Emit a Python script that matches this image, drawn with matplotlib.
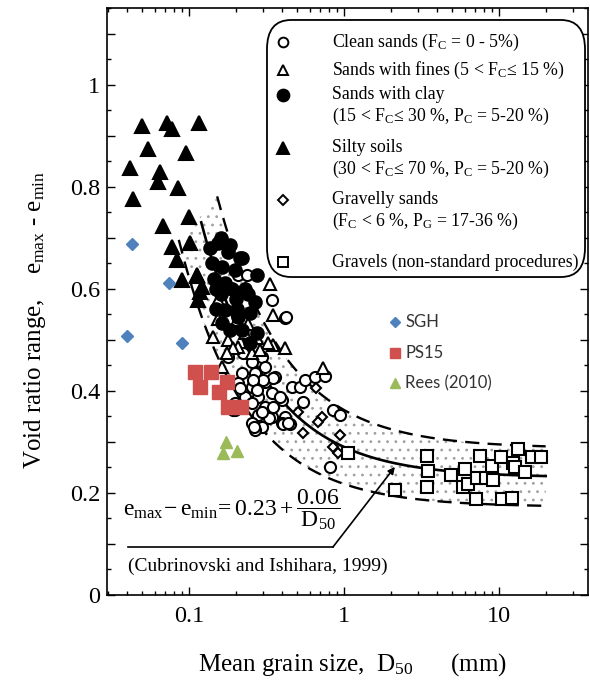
import numpy as np
import matplotlib
matplotlib.use("Agg")
import matplotlib.pyplot as plt
from matplotlib.patches import FancyBboxPatch
from matplotlib.ticker import MultipleLocator, FixedLocator, FuncFormatter, LogLocator, NullFormatter

plt.rcParams['font.family'] = ['Liberation Serif', 'DejaVu Serif']
plt.rcParams['mathtext.fontset'] = 'custom'
plt.rcParams['mathtext.rm'] = 'Liberation Serif'
plt.rcParams['mathtext.it'] = 'Liberation Serif'
plt.rcParams['mathtext.bf'] = 'Liberation Serif:bold'
plt.rcParams['mathtext.default'] = 'rm'
plt.rcParams['hatch.linewidth'] = 0.8

# ---- data: mean grain size D50 (mm) and void ratio range (emax - emin) ----
clean_D = [0.207, 0.237, 0.343, 0.416, 0.179, 0.223, 0.255, 0.296, 0.220, 0.267,
           0.309, 0.207, 0.255, 0.309, 0.359, 0.230, 0.279, 0.343, 0.255, 0.198,
           0.309, 0.398, 0.462, 0.279, 0.343, 0.416, 0.296, 0.255, 0.398, 0.267,
           0.198, 0.520, 0.422, 0.56, 0.65, 0.75, 0.544, 0.85, 0.94, 0.81,
           0.262, 0.328, 0.404, 0.449, 0.348, 0.386, 0.348, 0.30, 0.26, 0.296,
           0.275, 0.436, 0.192, 0.213]
clean_e = [0.627, 0.627, 0.578, 0.543, 0.467, 0.475, 0.457, 0.467, 0.435, 0.435,
           0.447, 0.416, 0.408, 0.418, 0.427, 0.388, 0.388, 0.396, 0.376, 0.376,
           0.369, 0.382, 0.408, 0.353, 0.349, 0.349, 0.329, 0.337, 0.337, 0.324,
           0.363, 0.408, 0.545, 0.422, 0.427, 0.429, 0.378, 0.363, 0.353, 0.251,
           0.329, 0.347, 0.335, 0.335, 0.369, 0.388, 0.425, 0.422, 0.422, 0.359,
           0.402, 0.337, 0.363, 0.405]

fines_D = [0.333, 0.348, 0.154, 0.143, 0.179, 0.207, 0.204, 0.275, 0.255, 0.348,
           0.416, 0.323, 0.163, 0.230, 0.192, 0.176, 0.733, 0.287, 0.155, 0.24]
fines_e = [0.610, 0.549, 0.578, 0.506, 0.500, 0.486, 0.539, 0.504, 0.475, 0.490,
           0.484, 0.494, 0.447, 0.514, 0.484, 0.475, 0.445, 0.480, 0.540, 0.53]

clay_D = [0.154, 0.179, 0.213, 0.163, 0.198, 0.275, 0.171, 0.267, 0.171, 0.207,
          0.248, 0.163, 0.275, 0.248, 0.137, 0.140, 0.145, 0.150, 0.160, 0.190,
          0.200, 0.230, 0.220, 0.185, 0.240, 0.220, 0.184, 0.150, 0.160, 0.205]
clay_e = [0.690, 0.671, 0.661, 0.643, 0.637, 0.627, 0.612, 0.575, 0.559, 0.545,
          0.553, 0.533, 0.514, 0.494, 0.680, 0.650, 0.620, 0.600, 0.590, 0.600,
          0.580, 0.600, 0.520, 0.520, 0.590, 0.660, 0.686, 0.560, 0.700, 0.560]

silty_D = [0.0497, 0.0722, 0.0777, 0.116, 0.0543, 0.0956, 0.0416, 0.065, 0.0631, 0.085,
           0.0435, 0.100, 0.068, 0.1015, 0.0777, 0.0837, 0.0901, 0.1126, 0.121, 0.113,
           0.118, 0.115]
silty_e = [0.918, 0.924, 0.912, 0.924, 0.873, 0.865, 0.837, 0.829, 0.810, 0.798,
           0.775, 0.741, 0.722, 0.690, 0.682, 0.657, 0.618, 0.627, 0.604, 0.624,
           0.594, 0.578]

gravelly_D = [0.66, 0.505, 0.72, 0.68, 0.544, 0.94, 0.85, 0.91]
gravelly_e = [0.406, 0.359, 0.349, 0.339, 0.318, 0.314, 0.290, 0.278]

gravel_D = [2.13, 3.43, 3.48, 3.43, 4.9, 6.04, 5.86, 6.31, 7.1, 7.54,
            7.21, 8.24, 9.01, 9.16, 10.3, 12.3, 13.3, 12.7, 14.7, 16.3,
            18.7, 10.5, 12.1, 1.06]
gravel_e = [0.206, 0.273, 0.243, 0.212, 0.235, 0.247, 0.212, 0.218, 0.188, 0.273,
            0.229, 0.229, 0.253, 0.225, 0.271, 0.259, 0.286, 0.251, 0.241, 0.271,
            0.271, 0.188, 0.190, 0.278]

sgh_D = [0.0428, 0.0743, 0.0398, 0.0901]
sgh_e = [0.688, 0.612, 0.508, 0.494]

ps15_D = [0.109, 0.139, 0.118, 0.176, 0.156, 0.178, 0.216]
ps15_e = [0.437, 0.437, 0.408, 0.418, 0.398, 0.369, 0.369]

rees_D = [0.173, 0.166, 0.204]
rees_e = [0.300, 0.278, 0.282]

# empirical relation emax - emin = a + b / D50 with a +/-25 % band
fit_a, fit_b = 0.23, 0.06
band_lo, band_hi = 0.75, 1.25

x_ticks = [0.1, 1, 10]
x_ticklabels = ['0.1', '1', '10']

# ---- figure ----
fig = plt.figure(figsize=(5.9, 6.88), dpi=100)
ax = fig.add_axes([107 / 590, 1 - 595 / 688, 481 / 590, 587 / 688])
ax.set_xscale('log')
ax.set_xlim(0.0296, 37.5)
ax.set_ylim(0, 1.15)


def relation(d):
    return fit_a + fit_b / d


# stippled scatter band; its upper-left corner is cut by a slanted edge
d_band = np.logspace(np.log10(0.088), np.log10(20), 400)
cut_edge = 0.784 - 0.396 * (np.log10(0.152) - np.log10(d_band))
ax.fill_between(d_band, band_lo * relation(d_band),
                np.minimum(band_hi * relation(d_band), cut_edge),
                facecolor='none', edgecolor='#a0a0a0', hatch='..', lw=0, zorder=1)

d_up = np.logspace(np.log10(0.152), np.log10(20), 300)
ax.plot(d_up, band_hi * relation(d_up), color='black', lw=1.7,
        dashes=(6, 3.5), zorder=2)
d_lo = np.logspace(np.log10(0.086), np.log10(20), 300)
ax.plot(d_lo, band_lo * relation(d_lo), color='black', lw=1.7,
        dashes=(6, 3.5), zorder=2)
d_mid = np.logspace(np.log10(0.12), np.log10(20), 300)
ax.plot(d_mid, relation(d_mid), color='black', lw=1.9, zorder=2)

mk = dict(ls='none', mec='black', mew=1.5, zorder=3)
ax.plot(clean_D, clean_e, 'o', mfc='white', ms=8, **mk)
ax.plot(fines_D, fines_e, '^', mfc='white', ms=8, **mk)
ax.plot(gravelly_D, gravelly_e, 'D', mfc='white', ms=5.5, **mk)
ax.plot(gravel_D, gravel_e, 's', mfc='white', ms=8, **mk)
ax.plot(clay_D, clay_e, 'o', mfc='black', ms=9, **mk)
ax.plot(silty_D, silty_e, '^', mfc='black', ms=9.5, **mk)

ax.plot(sgh_D, sgh_e, 'D', ls='none', color='#4f81bd', ms=6.5, zorder=4)
ax.plot(ps15_D, ps15_e, 's', ls='none', color='#d0504d', ms=10, zorder=4)
ax.plot(rees_D, rees_e, '^', ls='none', color='#9bbb59', ms=9, zorder=4)

# equation and reference with leader arrow
ax.text(0.0375, 0.168, r'$e_{max}\!-e_{min}\!=0.23+\dfrac{0.06}{D_{50}}$',
        fontsize=17, va='center', ha='left', zorder=5)
ax.plot([0.0404, 0.849], [0.094, 0.094], color='black', lw=1.2, zorder=5)
ax.annotate('', xy=(2.13, 0.251), xytext=(0.849, 0.094),
            arrowprops=dict(arrowstyle='-|>', color='black', lw=1.2,
                            mutation_scale=10, shrinkA=0, shrinkB=0), zorder=5)
ax.text(0.0404, 0.057, '(Cubrinovski and Ishihara, 1999)', fontsize=14,
        va='center', ha='left', zorder=5)

# ticks
ax.xaxis.set_major_locator(FixedLocator(x_ticks))
ax.xaxis.set_major_formatter(FuncFormatter(lambda v, p: x_ticklabels[x_ticks.index(v)] if v in x_ticks else ''))
ax.xaxis.set_minor_locator(LogLocator(base=10, subs=np.arange(2, 10)))
ax.xaxis.set_minor_formatter(NullFormatter())
ax.yaxis.set_major_locator(MultipleLocator(0.1))
ax.yaxis.set_minor_locator(MultipleLocator(0.05))


def ylab(v, p):
    k = int(round(v * 10))
    if k % 2:
        return ''
    return '0' if k == 0 else ('1' if k == 10 else f'{v:.1f}')


ax.yaxis.set_major_formatter(FuncFormatter(ylab))
ax.tick_params(which='both', direction='in', top=True, right=True,
               labelsize=17.5, color='black', width=1.0)
ax.tick_params(which='major', length=6)
ax.tick_params(which='minor', length=3)
ax.tick_params(axis='x', pad=8)
ax.tick_params(axis='y', pad=5)
for s in ax.spines.values():
    s.set_linewidth(1.2)

fig.text(352 / 590, 1 - 665 / 688, r'Mean grain size,  D$_{50}$      (mm)',
         fontsize=18, ha='center', va='center')
fig.text(35 / 590, 1 - 320 / 688,
         r'Void ratio range,    e$_{max}$ - e$_{min}$',
         fontsize=18, ha='center', va='center', rotation=90)

# ---- legend of the original data groups ----
box = FancyBboxPatch((0.3326, 0.5417), 0.9938 - 0.3326, 0.9796 - 0.5417,
                     boxstyle='round,pad=0,rounding_size=0.05',
                     transform=ax.transAxes, facecolor='white',
                     edgecolor='black', lw=1.3, zorder=6, clip_on=False)
ax.add_patch(box)

leg_mx, leg_tx = 0.366, 0.468
leg_rows = [
    ('o', 'white', 7.0, 0.942, ['Clean sands (F$_C$ = 0 - 5%)']),
    ('^', 'white', 7.0, 0.894, ['Sands with fines (5 < F$_C$\u2264 15 %)']),
    ('o', 'black', 8.5, 0.852, ['Sands with clay', '(15 < F$_C$\u2264 30 %, P$_C$ = 5-20 %)']),
    ('^', 'black', 8.5, 0.7615, ['Silty soils', '(30 < F$_C$\u2264 70 %, P$_C$ = 5-20 %)']),
    ('D', 'white', 5.5, 0.673, ['Gravelly sands', '(F$_C$ < 6 %, P$_G$ = 17-36 %)']),
    ('s', 'white', 7.5, 0.567, ['Gravels (non-standard procedures)']),
]
for m, fc, size, yy, lines in leg_rows:
    ax.plot([leg_mx], [yy], m, mfc=fc, mec='black', mew=1.4, ms=size,
            transform=ax.transAxes, clip_on=False, zorder=7)
    for i, line in enumerate(lines):
        ax.text(leg_tx, yy - i * 0.036, line, transform=ax.transAxes,
                fontsize=12.8, va='center', ha='left', zorder=7)

# ---- legend of the added data sets ----
add_rows = [('D', '#4f81bd', 5, 0.465, 'SGH'),
            ('s', '#d0504d', 6.5, 0.412, 'PS15'),
            ('^', '#9bbb59', 6.5, 0.361, 'Rees (2010)')]
for m, c, size, yy, label in add_rows:
    ax.plot([0.599], [yy], m, color=c, ms=size, transform=ax.transAxes,
            clip_on=False, zorder=7)
    ax.text(0.62, yy, label, transform=ax.transAxes, fontsize=12,
            family=['Lato', 'DejaVu Sans'], color='#333333',
            va='center', ha='left', zorder=7)

fig.savefig('out.png', dpi=100)
